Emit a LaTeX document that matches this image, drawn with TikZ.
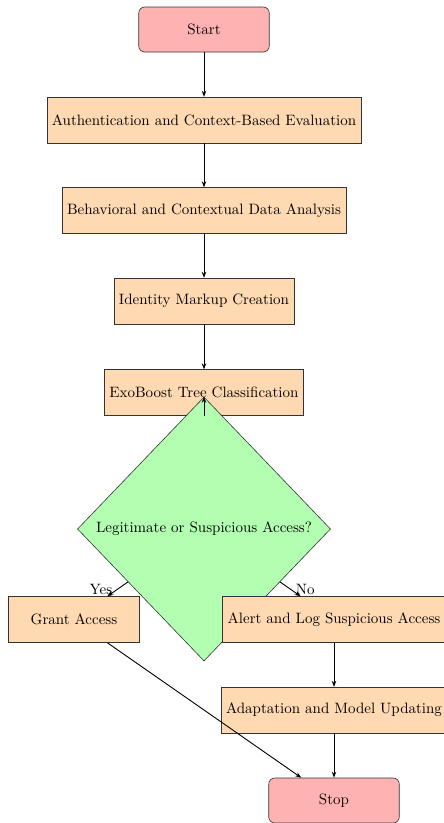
\documentclass[tikz,border=0pt]{standalone}
\usetikzlibrary{shapes.geometric,arrows.meta}
\begin{document}
\begin{tikzpicture}[x=0.6667pt,y=-0.6667pt,
  startstop/.style={rectangle, rounded corners=4pt, minimum width=87pt, minimum height=30pt, draw=black!80, fill=red!30},
  process/.style={rectangle, minimum width=87pt, minimum height=30.5pt, draw=black!80, fill=orange!30},
  decision/.style={diamond, draw=black!80, fill=green!30, inner sep=0pt, minimum width=168.7pt, minimum height=176pt},
  arrow/.style={semithick, -{Stealth[length=4pt,width=3pt]}},
  lbl/.style={inner sep=3.3pt}]
\useasboundingbox (0,0) rectangle (444,823);
\node[startstop] (start) at (204,29.5) {Start};
\node[process] (auth) at (204,120) {Authentication and Context-Based Evaluation};
\node[process] (behav) at (204,210.5) {Behavioral and Contextual Data Analysis};
\node[process] (ident) at (204,301) {Identity Markup Creation};
\node[process] (exo) at (204,392.5) {ExoBoost Tree Classification};
\node[decision] (dec) at (204,529) {Legitimate or Suspicious Access?};
\node[process] (grant) at (74,619.5) {Grant Access};
\node[process] (alert) at (334,619.5) {Alert and Log Suspicious Access};
\node[process] (adapt) at (334,710) {Adaptation and Model Updating};
\node[startstop] (stop) at (334,800.5) {Stop};
\draw[arrow] (start) -- (auth);
\draw[arrow] (auth) -- (behav);
\draw[arrow] (behav) -- (ident);
\draw[arrow] (ident) -- (exo);
\draw[arrow] (exo.south) -- (dec.north);
\draw[arrow] (dec) -- node[lbl, left] {Yes} (grant);
\draw[arrow] (dec) -- node[lbl, right] {No} (alert);
\draw[arrow] (alert) -- (adapt);
\draw[arrow] (adapt) -- (stop);
\draw[arrow] (grant) -- (stop);
\end{tikzpicture}
\end{document}
